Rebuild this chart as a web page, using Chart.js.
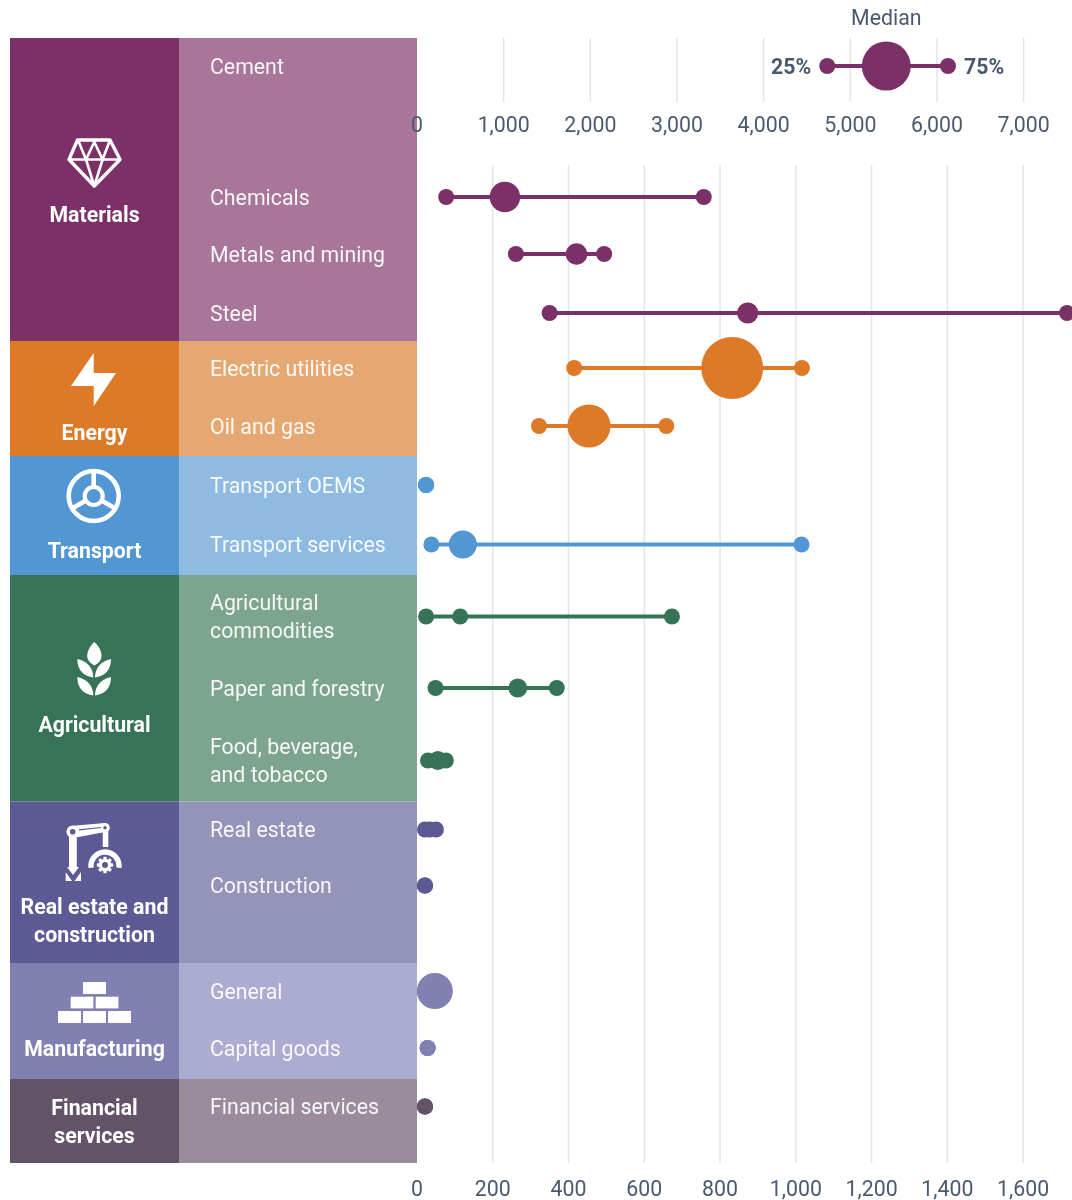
<!DOCTYPE html>
<html>
<head>
<meta charset="utf-8">
<style>
    html, body { margin: 0; padding: 0; background: #fff; }
    canvas { display: block; }
</style>
<script src="https://cdn.jsdelivr.net/npm/chart.js@4"></script>
</head>
<body>
<canvas id="ranges" width="1072" height="1200"></canvas>
<script>
// data
const categories = ["Cement", "Chemicals", "Metals and mining", "Steel", "Electric utilities", "Oil and gas",
    "Transport OEMS", "Transport services", "Agricultural\ncommodities", "Paper and forestry",
    "Food, beverage,\nand tobacco", "Real estate", "Construction", "General", "Capital goods", "Financial services"];
const groups = ["Materials", "Energy", "Transport", "Agricultural", "Real estate and\nconstruction", "Manufacturing", "Financial\nservices"];
const groupSizes = [4, 2, 2, 3, 2, 2, 1];
const p25 = [4734, 77, 261, 350, 415, 322, 24, 38, 24, 49, 29, 21, 21, 47, 28, 21];
const medians = [5415, 232, 421, 873, 832, 454, 24, 121, 114, 266, 55, 34, 21, 47, 28, 21];
const p75 = [6127, 757, 494, 1716, 1016, 658, 24, 1015, 673, 369, 76, 50, 21, 47, 28, 21];
const medianWeights = [150, 58, 29, 28, 240, 116, 16, 49, 16, 22, 22, 16, 16, 81, 16, 16];
const topTicks = [0, 1000, 2000, 3000, 4000, 5000, 6000, 7000];
const bottomTicks = [0, 200, 400, 600, 800, 1000, 1200, 1400, 1600];

// layout of the table, in y scale units (0 = top of the bands)
const rowCenters = [28, 159, 216, 275, 330, 388, 447, 506.5, 578.5, 650, 722.5, 791.5, 847.5, 953, 1010, 1068.5];
const groupEdges = [0, 303, 418, 537, 763.5, 925, 1041, 1125];
const groupLabelCenters = [176, 394, 512, 686, 882, 1010, 1083];
const topGrid = [0, 64];
const bottomGrid = [127, 1125];

const darkColors = ["#7b3067", "#de7a27", "#5297d3", "#377357", "#5b5a94", "#8081b2", "#635369"];
const lightColors = ["#a7769a", "#e6a873", "#8fbbe2", "#7da48f", "#9493b8", "#abaccf", "#9b8c9c"];
const textColor = "#4a5a6e";
const gridColor = "#e1e5e9";

const rowColors = [];
groupSizes.forEach((n, g) => { for (let i = 0; i < n; i++) rowColors.push(darkColors[g]); });

function drawLines(ctx, text, x, y, lineHeight) {
    const lines = text.split("\n");
    lines.forEach((line, i) => {
        ctx.fillText(line, x, y + (i - (lines.length - 1) / 2) * lineHeight);
    });
}

function poly(ctx, pts, close) {
    ctx.beginPath();
    pts.forEach((p, i) => i ? ctx.lineTo(p[0], p[1]) : ctx.moveTo(p[0], p[1]));
    if (close) ctx.closePath();
}

function leaf(ctx, x, y, dir) {
    ctx.beginPath();
    ctx.moveTo(x, y);
    ctx.bezierCurveTo(x + dir * 10, y + 2, x + dir * 16, y + 9, x + dir * 16, y + 18.5);
    ctx.bezierCurveTo(x + dir * 7, y + 17, x, y + 12, x, y);
    ctx.fill();
}

// white pictograms of the left column
const icons = [
    function diamond(ctx) {
        ctx.lineWidth = 3.4;
        ctx.lineJoin = "round";
        poly(ctx, [[77.5, 140], [110, 140], [120, 159.5], [94.3, 186], [69, 159.5]], true);
        ctx.stroke();
        ctx.lineWidth = 2.6;
        poly(ctx, [[69, 159.5], [120, 159.5]]);
        ctx.stroke();
        poly(ctx, [[78, 140], [86, 159.5], [94.3, 142], [102.6, 159.5], [110, 140]]);
        ctx.stroke();
        poly(ctx, [[86, 159.5], [94.3, 186], [102.6, 159.5]]);
        ctx.stroke();
    },
    function bolt(ctx) {
        poly(ctx, [[93.7, 353], [93.7, 373], [116, 373], [93.7, 406], [93.7, 386], [71, 386]], true);
        ctx.fill();
    },
    function wheel(ctx) {
        ctx.lineWidth = 4.6;
        ctx.beginPath();
        ctx.arc(93.7, 496, 25, 0, Math.PI * 2);
        ctx.stroke();
        ctx.lineWidth = 4.2;
        ctx.beginPath();
        ctx.arc(93.7, 496, 9, 0, Math.PI * 2);
        ctx.stroke();
        ctx.lineWidth = 4.6;
        [-90, 30, 150].forEach(a => {
            const c = Math.cos(a * Math.PI / 180), s = Math.sin(a * Math.PI / 180);
            poly(ctx, [[93.7 + c * 10, 496 + s * 10], [93.7 + c * 25, 496 + s * 25]]);
            ctx.stroke();
        });
    },
    function wheat(ctx) {
        ctx.beginPath();
        ctx.moveTo(94.3, 642);
        ctx.bezierCurveTo(99, 646, 101.5, 651, 101.5, 656);
        ctx.bezierCurveTo(101.5, 660, 99, 663, 94.3, 665.5);
        ctx.bezierCurveTo(90, 663, 87.2, 660, 87.2, 656);
        ctx.bezierCurveTo(87.2, 651, 90, 646, 94.3, 642);
        ctx.fill();
        leaf(ctx, 77.3, 659, 1);
        leaf(ctx, 77.3, 677, 1);
        leaf(ctx, 111, 659, -1);
        leaf(ctx, 111, 677, -1);
    },
    function robot(ctx, bg) {
        poly(ctx, [[69, 833], [76.8, 833], [76.8, 867], [79, 867], [73, 875], [67, 867], [69, 867]], true);
        ctx.fill();
        poly(ctx, [[65.7, 872], [72, 881], [65.7, 881]], true);
        ctx.fill();
        poly(ctx, [[81, 872], [74.5, 881], [81, 881]], true);
        ctx.fill();
        poly(ctx, [[73, 825.7], [105, 823], [105, 832], [73, 838]], true);
        ctx.fill();
        ctx.fillRect(102.7, 827, 5.6, 20);
        ctx.beginPath();
        ctx.arc(72.7, 831.7, 6.3, 0, Math.PI * 2);
        ctx.arc(105, 827.7, 4.8, 0, Math.PI * 2);
        ctx.fill();
        ctx.fillStyle = bg;
        ctx.beginPath();
        ctx.arc(72.7, 831.7, 2.8, 0, Math.PI * 2);
        ctx.fill();
        ctx.beginPath();
        ctx.arc(105, 827.7, 1.7, 0, Math.PI * 2);
        ctx.fill();
        poly(ctx, [[79, 829.2], [101, 827], [101, 828], [79, 830.6]], true);
        ctx.fill();
        ctx.fillStyle = "#fff";
        ctx.lineWidth = 5.4;
        ctx.beginPath();
        ctx.arc(105, 866, 14, Math.PI * 0.96, Math.PI * 2.04);
        ctx.stroke();
        ctx.beginPath();
        ctx.arc(105, 865, 6.3, 0, Math.PI * 2);
        ctx.fill();
        for (let i = 0; i < 8; i++) {
            ctx.save();
            ctx.translate(105, 865);
            ctx.rotate(i * Math.PI / 4);
            ctx.fillRect(-1.6, -8.2, 3.2, 4);
            ctx.restore();
        }
        ctx.fillStyle = bg;
        ctx.beginPath();
        ctx.arc(105, 865, 3, 0, Math.PI * 2);
        ctx.fill();
    },
    function bricks(ctx) {
        ctx.fillRect(83, 982, 23, 12);
        ctx.fillRect(70.7, 996.7, 22.7, 11.7);
        ctx.fillRect(95.7, 996.7, 22.7, 11.7);
        ctx.fillRect(58, 1011, 23, 12);
        ctx.fillRect(83, 1011, 23, 12);
        ctx.fillRect(108, 1011, 23, 12);
    },
    null
];

const tablePlugin = {
    id: "table",
    beforeDraw(chart) {
        const ctx = chart.ctx, y = chart.scales.y;
        ctx.save();
        groups.forEach((name, g) => {
            const y0 = y.getPixelForValue(groupEdges[g]), y1 = y.getPixelForValue(groupEdges[g + 1]);
            ctx.fillStyle = darkColors[g];
            ctx.fillRect(10, y0, 169, y1 - y0);
            ctx.fillStyle = lightColors[g];
            ctx.fillRect(179, y0, 238, y1 - y0);
            ctx.fillStyle = "#fff";
            ctx.strokeStyle = "#fff";
            ctx.font = "700 21.3px Roboto";
            ctx.textAlign = "center";
            ctx.textBaseline = "middle";
            drawLines(ctx, name, 94.5, y.getPixelForValue(groupLabelCenters[g]) + 3, 28);
            if (icons[g]) icons[g](ctx, darkColors[g]);
        });
        ctx.fillStyle = "rgba(255,255,255,0.92)";
        ctx.font = "400 21.3px Roboto";
        ctx.textAlign = "left";
        categories.forEach((name, i) => {
            drawLines(ctx, name, 210, y.getPixelForValue(rowCenters[i]) + 2.6, 28);
        });
        ctx.restore();
    },
    beforeDatasetsDraw(chart) {
        const ctx = chart.ctx, y = chart.scales.y;
        ctx.save();
        ctx.strokeStyle = gridColor;
        ctx.lineWidth = 1.5;
        [[chart.scales.xTop, topGrid], [chart.scales.x, bottomGrid]].forEach(([scale, span]) => {
            scale.ticks.forEach(t => {
                if (t.value === 0) return;
                const px = scale.getPixelForValue(t.value);
                ctx.beginPath();
                ctx.moveTo(px, y.getPixelForValue(span[0]));
                ctx.lineTo(px, y.getPixelForValue(span[1]));
                ctx.stroke();
            });
        });
        ctx.restore();
    },
    afterDraw(chart) {
        // the key around the cement row
        const ctx = chart.ctx, x = chart.scales.xTop, y = chart.scales.y;
        const mid = y.getPixelForValue(rowCenters[0]) + 3;
        ctx.save();
        ctx.fillStyle = textColor;
        ctx.textBaseline = "middle";
        ctx.textAlign = "center";
        ctx.font = "400 21.3px Roboto";
        ctx.fillText("Median", x.getPixelForValue(medians[0]), 20);
        ctx.font = "700 21.3px Roboto";
        ctx.textAlign = "right";
        ctx.fillText("25%", x.getPixelForValue(p25[0]) - 16, mid);
        ctx.textAlign = "left";
        ctx.fillText("75%", x.getPixelForValue(p75[0]) + 16, mid);
        ctx.restore();
    }
};

function axisOptions(ticks, max, atY) {
    return {
        type: "linear",
        position: { y: atY },
        min: 0,
        max: max,
        afterBuildTicks: scale => { scale.ticks = ticks.map(v => ({ value: v })); },
        grid: { display: false },
        border: { display: false },
        ticks: {
            autoSkip: false,
            maxRotation: 0,
            padding: 0,
            color: textColor,
            font: { family: "Roboto", size: 21.3 },
            callback: v => v.toLocaleString("en-US")
        }
    };
}

const datasets = categories.map((name, i) => ({
    label: name,
    xAxisID: i === 0 ? "xTop" : "x",
    yAxisID: "y",
    data: [p25[i], medians[i], p75[i]].map(v => ({ x: v, y: rowCenters[i] })),
    showLine: true,
    borderColor: rowColors[i],
    borderWidth: 4,
    backgroundColor: rowColors[i],
    pointBackgroundColor: rowColors[i],
    pointBorderWidth: 0,
    pointRadius: [8, 2 * Math.sqrt(medianWeights[i]), 8],
    pointHoverRadius: [8, 2 * Math.sqrt(medianWeights[i]), 8],
    clip: false
}));

window.onload = () => {
    new Chart(document.getElementById("ranges").getContext("2d"), {
        type: "scatter",
        data: { datasets: datasets },
        options: {
            responsive: false,
            animation: false,
            events: [],
            layout: { autoPadding: false, padding: { left: 417, right: 0, top: 38, bottom: 37 } },
            plugins: { legend: { display: false }, tooltip: { enabled: false } },
            scales: {
                xTop: axisOptions(topTicks, 7558, 68),
                x: axisOptions(bottomTicks, 1729, 1132),
                y: { type: "linear", display: false, reverse: true, min: 0, max: 1125 }
            }
        },
        plugins: [tablePlugin]
    });
};
</script>
</body>
</html>
